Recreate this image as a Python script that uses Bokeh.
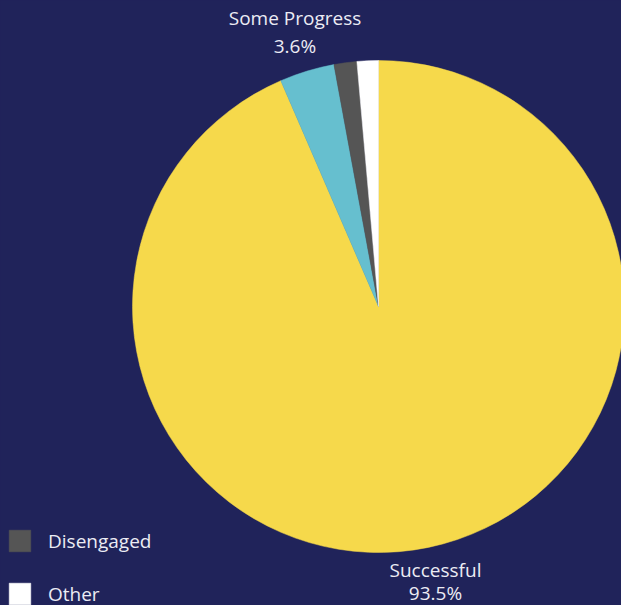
import math
from bokeh.plotting import figure
from bokeh.models import ColumnDataSource, Legend, LegendItem, Range1d, GlobalInlineStyleSheet
from bokeh.core.properties import value
from bokeh.embed import file_html
from bokeh.resources import INLINE

categories = ["Successful", "Some Progress", "Disengaged", "Other"]
percents = [93.5, 3.6, 1.5, 1.4]
colors = ["#f6d94b", "#66bfcf", "#555555", "#ffffff"]
labeled = ["Successful", "Some Progress"]
legend_items = ["Disengaged", "Other"]

BG = "#20235a"
W, H = 621, 605
cx, cy, R = 378, 299, 246
FONT = "Open Sans"
FS = "19px"

total = sum(percents)
starts, ends, mids = [], [], []
cum = 0.0
for pc in percents:
    a0 = math.pi / 2 - 2 * math.pi * (cum + pc) / total
    a1 = math.pi / 2 - 2 * math.pi * cum / total
    starts.append(a0)
    ends.append(a1)
    mids.append((a0 + a1) / 2)
    cum += pc

p = figure(width=W, height=H, output_backend="svg", toolbar_location=None,
           x_range=Range1d(0, W), y_range=Range1d(0, H),
           min_border=0, outline_line_color=None,
           background_fill_color=BG, border_fill_color=BG,
           stylesheets=[GlobalInlineStyleSheet(css=f"html,body{{margin:0;padding:0;background:{BG};overflow:hidden;}}")])
p.axis.visible = False
p.grid.visible = False

renderers = []
for i, c in enumerate(categories):
    r = p.wedge(x=cx, y=cy, radius=R, start_angle=starts[i], end_angle=ends[i],
                fill_color=colors[i], line_color=colors[i], line_width=0.5)
    renderers.append(r)

# outside labels
label_r = {"Successful": 281, "Some Progress": 287}
half_gap = {"Successful": 11.5, "Some Progress": 14}
lx, ly1, ly2, t1, t2 = [], [], [], [], []
for i, c in enumerate(categories):
    if c in labeled:
        rr = label_r[c]
        x = cx + rr * math.cos(mids[i])
        y = cy + rr * math.sin(mids[i])
        lx.append(x)
        ly1.append(y + half_gap[c])
        ly2.append(y - half_gap[c])
        t1.append(c)
        t2.append(f"{percents[i]}%")
p.text(x=lx, y=ly1, text=t1, text_align="center", text_baseline="middle",
       text_font=value(FONT), text_font_size=FS, text_color="#ececf4")
p.text(x=lx, y=ly2, text=t2, text_align="center", text_baseline="middle",
       text_font=value(FONT), text_font_size=FS, text_color="#ececf4")

items = [LegendItem(label=c, renderers=[renderers[categories.index(c)]]) for c in legend_items]
legend = Legend(items=items, location=(6, -2), orientation="vertical",
                glyph_width=27, glyph_height=27, spacing=26, label_standoff=15,
                label_text_font=FONT, label_text_font_size=FS,
                label_text_color="#ececf4", label_height=27,
                padding=0, margin=0, border_line_color=None,
                background_fill_alpha=0)
p.add_layout(legend, "center")

open("out.html", "w").write(file_html(p, INLINE))
